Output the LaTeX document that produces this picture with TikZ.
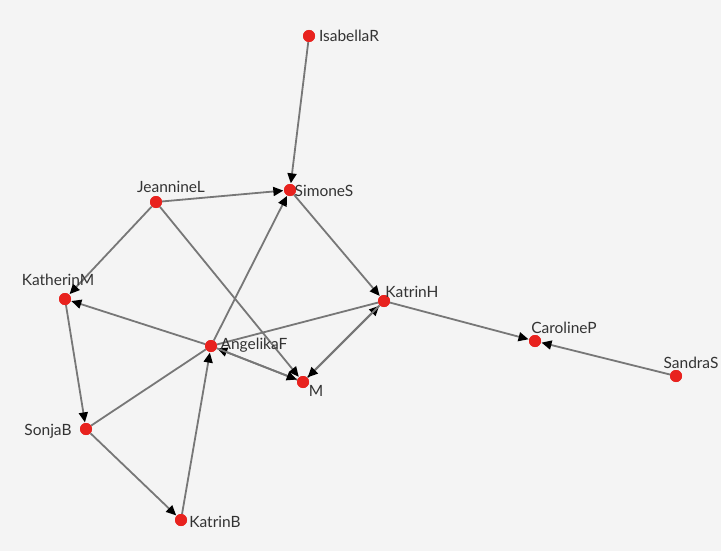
\documentclass[tikz,border=0pt]{standalone}
\usepackage{fontspec}
\setmainfont{Lato}
\usetikzlibrary{arrows.meta}
\definecolor{bg}{HTML}{F4F4F4}
\definecolor{edgec}{HTML}{777777}
\definecolor{nodec}{HTML}{E8221E}
\definecolor{txt}{HTML}{333333}
\begin{document}
\begin{tikzpicture}[x=1pt,y=-1pt,
  vert/.style={circle,fill=nodec,draw=none,minimum size=12pt,inner sep=0pt},
  lbl/.style={text=txt,font=\fontsize{15.5}{17}\selectfont,inner sep=0pt},
  edge/.style={draw=edgec,line width=1.8pt,-{Triangle[length=10pt,width=9pt,color=black]},shorten >=0.5pt},
  plain/.style={draw=edgec,line width=1.8pt}]
\fill[bg] (0,0) rectangle (721,551);
\useasboundingbox (0,0) rectangle (721,551);
% nodes
\node[vert] (IsabellaR) at (309,36) {};
\node[vert] (SimoneS) at (290,190) {};
\node[vert] (JeannineL) at (156,202) {};
\node[vert] (KatherinM) at (65,299) {};
\node[vert] (KatrinH) at (384,301) {};
\node[vert] (CarolineP) at (535,341) {};
\node[vert] (SandraS) at (676,376) {};
\node[vert] (AngelikaF) at (211,346) {};
\node[vert] (M) at (303,382) {};
\node[vert] (SonjaB) at (86,429) {};
\node[vert] (KatrinB) at (181,520) {};
% edges
\draw[edge] (IsabellaR) -- (SimoneS);
\draw[edge] (JeannineL) -- (SimoneS);
\draw[edge] (AngelikaF) -- (SimoneS);
\draw[edge] (SimoneS) -- (KatrinH);
\draw[edge] (JeannineL) -- (KatherinM);
\draw[edge] (JeannineL) -- (M);
\draw[edge] (AngelikaF) -- (KatherinM);
\draw[edge] (KatherinM) -- (SonjaB);
\draw[plain] (SonjaB) -- (AngelikaF);
\draw[plain] (AngelikaF) -- (KatrinH);
\draw[edge] (KatrinB) -- (AngelikaF);
\draw[edge] (SonjaB) -- (KatrinB);
\draw[edge] (M) -- (AngelikaF);
\draw[edge] (AngelikaF) -- (M);
\draw[edge] (M) -- (KatrinH);
\draw[edge] (KatrinH) -- (M);
\draw[edge] (KatrinH) -- (CarolineP);
\draw[edge] (SandraS) -- (CarolineP);
% redraw vertices on top
\foreach \n in {IsabellaR,SimoneS,JeannineL,KatherinM,KatrinH,CarolineP,SandraS,AngelikaF,M,SonjaB,KatrinB}
  \fill[nodec] (\n) circle (6pt);
% labels
\node[lbl] (tIsabellaR) at (349,36) {IsabellaR};
\node[lbl] (tSimoneS) at (324,191) {SimoneS};
\node[lbl] (tJeannineL) at (171,187) {JeannineL};
\node[lbl] (tKatherinM) at (58,280) {KatherinM};
\node[lbl] (tKatrinH) at (412,292) {KatrinH};
\node[lbl] (tCarolineP) at (564,328) {CarolineP};
\node[lbl] (tSandraS) at (691,363) {SandraS};
\node[lbl] (tAngelikaF) at (254,345) {AngelikaF};
\node[lbl] (tM) at (316,391) {M};
\node[lbl] (tSonjaB) at (48,431) {SonjaB};
\node[lbl] (tKatrinB) at (215,522) {KatrinB};
\end{tikzpicture}
\end{document}
